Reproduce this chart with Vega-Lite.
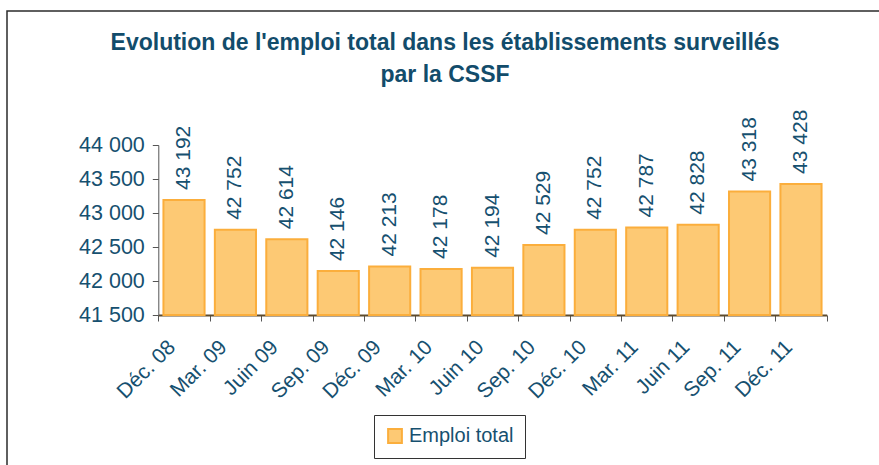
{
  "$schema": "https://vega.github.io/schema/vega-lite/v6.json",
  "autosize": {"type": "none"},
  "padding": {"left": 7, "top": 11, "right": -10, "bottom": -16},
  "width": 882,
  "height": 470,
  "background": "white",
  "config": {
    "font": "Liberation Sans",
    "view": {"stroke": "#2b2b2b", "strokeWidth": 1.5},
    "locale": {"number": {"decimal": ",", "thousands": " ", "grouping": [3], "currency": ["", " €"]}}
  },
  "title": {
    "text": ["Evolution de l'emploi total dans les établissements surveillés", "par la CSSF"],
    "font": "Liberation Sans",
    "fontSize": 23,
    "fontWeight": "bold",
    "color": "#124C6B",
    "lineHeight": 32,
    "anchor": "middle",
    "frame": "group",
    "orient": "top",
    "offset": -76,
    "dx": -3
  },
  "data": {
    "values": [
      {"periode": "Déc. 08", "emploi": 43192},
      {"periode": "Mar. 09", "emploi": 42752},
      {"periode": "Juin 09", "emploi": 42614},
      {"periode": "Sep. 09", "emploi": 42146},
      {"periode": "Déc. 09", "emploi": 42213},
      {"periode": "Mar. 10", "emploi": 42178},
      {"periode": "Juin 10", "emploi": 42194},
      {"periode": "Sep. 10", "emploi": 42529},
      {"periode": "Déc. 10", "emploi": 42752},
      {"periode": "Mar. 11", "emploi": 42787},
      {"periode": "Juin 11", "emploi": 42828},
      {"periode": "Sep. 11", "emploi": 43318},
      {"periode": "Déc. 11", "emploi": 43428}
    ]
  },
  "encoding": {
    "x": {
      "field": "periode",
      "type": "nominal",
      "sort": null,
      "scale": {"type": "band", "paddingInner": 0, "paddingOuter": 0, "range": [151.3, 819.7]},
      "axis": {
        "title": null,
        "offset": -166,
        "tickBand": "extent",
        "tickSize": 6,
        "tickColor": "#555555",
        "domainColor": "#5e4b2c",
        "domainWidth": 2,
        "labelAngle": -45,
        "labelAlign": "right",
        "labelBaseline": "top",
        "labelPadding": 15,
        "labelOffset": -20,
        "labelFontSize": 21,
        "labelColor": "#16506F",
        "labelFont": "Liberation Sans"
      }
    },
    "y": {
      "field": "emploi",
      "type": "quantitative",
      "scale": {"domain": [41500, 44000], "range": [304, 134], "zero": false, "nice": false},
      "axis": {
        "title": null,
        "offset": -151.3,
        "values": [41500, 42000, 42500, 43000, 43500, 44000],
        "format": ",d",
        "grid": false,
        "tickSize": 6,
        "tickColor": "#555555",
        "domainColor": "#555555",
        "labelPadding": 8,
        "labelFontSize": 21.5,
        "labelColor": "#16506F",
        "labelFont": "Liberation Sans"
      }
    }
  },
  "layer": [
    {
      "mark": {"type": "bar", "width": {"band": 0.8}, "stroke": "#FBAE3C", "strokeWidth": 2},
      "encoding": {
        "y2": {"datum": 41500},
        "color": {
          "datum": "Emploi total",
          "scale": {"range": ["#FDC974"]},
          "legend": {
            "title": null,
            "orient": "none",
            "legendX": 367,
            "legendY": 404,
            "padding": 11,
            "strokeColor": "#333333",
            "symbolType": "square",
            "symbolSize": 190,
            "symbolStrokeColor": "#FBAE3C",
            "symbolStrokeWidth": 2,
            "symbolOpacity": 1,
            "labelFontSize": 20,
            "labelColor": "#16506F",
            "labelFont": "Liberation Sans",
            "labelOffset": 4
          }
        }
      }
    },
    {
      "mark": {"type": "text", "angle": 270, "align": "left", "baseline": "middle", "dx": 10, "fontSize": 21, "color": "#16506F", "font": "Liberation Sans"},
      "encoding": {
        "text": {"field": "emploi", "type": "quantitative", "format": ",d"}
      }
    }
  ]
}
